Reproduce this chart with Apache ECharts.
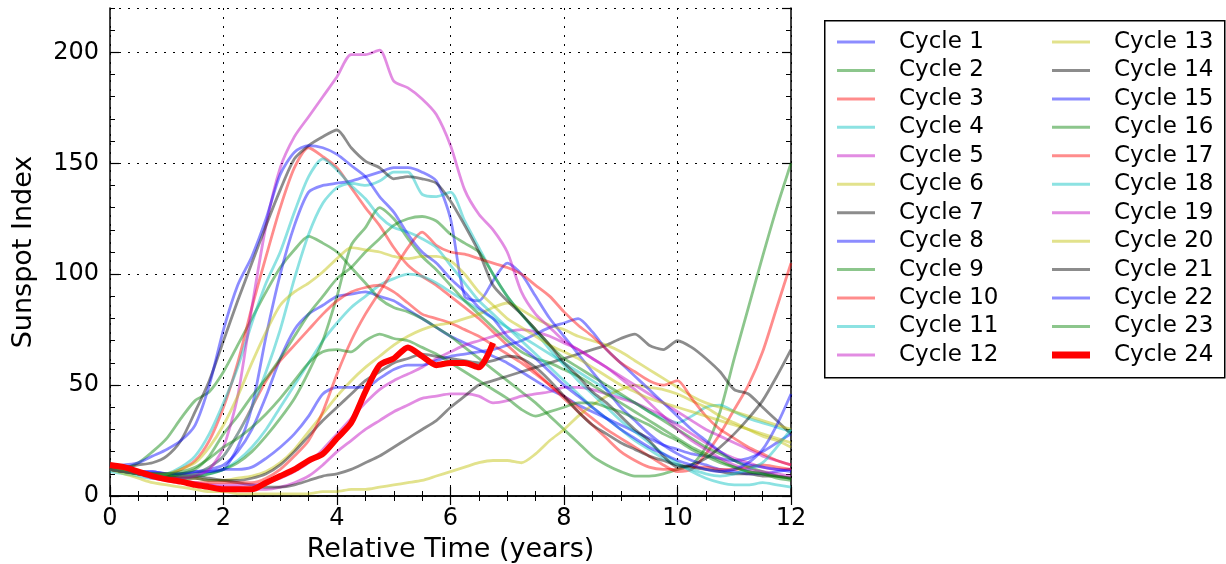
<!DOCTYPE html>
<html>
<head>
<meta charset="utf-8">
<script src="https://cdn.jsdelivr.net/npm/echarts@6/dist/echarts.min.js"></script>
<style>
  html, body { margin: 0; padding: 0; background: #fff; }
  #chart { width: 1226px; height: 564px; }
</style>
</head>
<body>
<div id="chart"></div>
<script>
// sample times (years since cycle start)
const years = [0, 0.25, 0.5, 0.75, 1, 1.25, 1.5, 1.75, 2, 2.25, 2.5, 2.75,
  3, 3.25, 3.5, 3.75, 4, 4.25, 4.5, 4.75, 5, 5.25, 5.5, 5.75,
  6, 6.25, 6.5, 6.75, 7, 7.25, 7.5, 7.75, 8, 8.25, 8.5, 8.75,
  9, 9.25, 9.5, 9.75, 10, 10.25, 10.5, 10.75, 11, 11.25, 11.5, 11.75, 12];

// sunspot index per cycle
const cycle1 = [12,12,11,11, 10,10,11,12, 14,20,30,45, 62,75,82,86, 90,91,92,90, 88,84,80,76, 72,69,66,63, 60,56,52,48, 45,41,38,35, 32,29,26,23, 21,19,18,17, 16,17,20,24, 28];
const cycle2 = [13,13,15,20, 26,35,43,47, 56,68,80,92, 103,111,117,114, 110,103,96,89, 85,83,80,76, 72,67,62,57, 52,47,42,36, 30,24,18,14, 11,9,9,10, 12,14,22,38, 62,85,108,130, 150];
const cycle3 = [13,12,11,10, 10,12,16,25, 40,60,85,108, 130,148,157,153, 148,139,130,122, 112,104,99,95, 90,85,80,74, 68,62,56,50, 45,40,35,30, 26,22,18,14, 11,12,19,28, 39,50,65,85, 105];
const cycle4 = [11,10,9,8, 8,8,9,10, 12,16,22,30, 40,50,60,70, 78,85,90,95, 98,100,99,96, 92,88,84,80, 76,72,68,64, 60,56,52,48, 45,42,38,35, 33,36,40,41, 38,35,33,31, 29];
const cycle5 = [12,11,10,9, 8,7,6,5, 4,4,3,3, 4,6,9,14, 20,25,30,34, 38,41,44,45, 46,46,45,42, 43,45,46,47, 49,49,48,46, 44,42,39,36, 32,28,24,20, 17,15,13,12, 12];
const cycle6 = [12,10,8,6, 5,4,3,2, 2,1,1,1, 1,1,1,2, 2,3,3,4, 5,6,7,9, 11,13,15,16, 16,15,19,25, 30,36,41,45, 48,50,49,48, 46,43,40,36, 33,30,27,25, 22];
const cycle7 = [12,11,11,10, 10,9,9,8, 7,6,5,4, 4,5,7,9, 10,12,15,18, 22,26,30,34, 40,45,50,52, 54,56,58,60, 62,64,66,68, 71,73,68,66, 70,67,62,56, 48,46,40,34, 28];
const cycle8 = [12,12,11,11, 10,10,10,11, 12,22,40,72, 100,122,137,140, 141,142,144,146, 148,148,146,142, 125,90,88,97, 105,100,90,80, 72,64,56,48, 40,34,28,23, 19,16,14,12, 11,10,10,11, 12];
const cycle9 = [12,12,11,10, 9,9,9,10, 12,15,20,27, 35,44,56,70, 90,113,121,130, 125,116,108,102, 95,88,82,76, 70,65,62,60, 57,54,50,46, 42,38,34,30, 26,22,19,16, 13,11,10,9, 8];
const cycle10 = [13,12,10,9, 8,9,10,13, 18,28,40,52, 61,68,75,82, 88,92,94,95, 92,87,82,80, 78,75,72,68, 64,60,55,50, 44,38,32,26, 20,16,13,12, 12,13,13,12, 12,13,14,13, 12];
const cycle11 = [12,11,10,9, 9,9,10,13, 18,28,40,56, 75,98,118,132, 139,141,140,142, 146,146,136,135, 137,124,112,100, 90,82,74,66, 59,52,46,40, 34,29,24,19, 15,11,8,6, 5,5,6,5, 4];
const cycle12 = [13,12,10,8, 7,6,6,5, 5,5,5,6, 8,11,15,21, 28,35,42,48, 52,55,58,62, 65,68,70,72, 74,75,74,72, 69,66,62,58, 54,50,46,42, 38,34,30,27, 24,21,18,16, 14];
const cycle13 = [12,11,10,9, 9,8,8,7, 7,8,9,11, 15,21,29,37, 45,52,58,63, 68,72,75,77, 78,80,82,85, 87,84,80,77, 75,72,70,68, 65,61,57,53, 49,45,42,40, 38,36,34,32, 30];
const cycle14 = [12,11,10,9, 9,8,8,7, 7,7,8,10, 14,20,27,34, 40,46,52,56, 60,62,64,63, 62,61,60,61, 63,62,58,52, 45,38,32,28, 24,21,18,16, 14,13,12,11, 10,10,9,9, 8];
const cycle15 = [12,12,11,10, 10,10,11,11, 12,12,13,17, 22,28,36,46, 49,49,49,53, 57,59,59,61, 63,64,65,66, 68,70,73,76, 78,80,74,66, 60,54,48,42, 36,30,25,20, 16,14,13,12, 11];
const cycle16 = [12,11,10,9, 9,10,12,18, 28,36,45,53, 62,72,82,90, 98,103,110,116, 122,125,126,124, 118,114,110,100, 90,82,75,68, 62,58,54,50, 46,42,38,34, 30,26,22,19, 16,13,11,9, 8];
const cycle17 = [12,11,10,9, 8,7,6,6, 6,6,6,8, 12,18,25,38, 55,70,82,92, 102,112,119,113, 110,109,107,105, 103,100,95,90, 83,77,72,66, 60,56,52,50, 52,44,36,30, 26,22,19,16, 14];
const cycle18 = [12,11,10,9, 10,13,18,28, 42,58,78,96, 110,128,144,152, 147,140,134,126, 121,119,116,112, 104,96,88,82, 76,70,64,58, 52,46,40,35, 30,25,21,17, 14,12,10,9, 10,12,15,22, 30];
const cycle19 = [12,11,10,9, 8,8,9,12, 22,45,85,122, 148,162,171,180, 189,199,199,201, 187,184,179,172, 158,138,127,120, 110,92,82,76, 70,66,62,58, 53,48,42,36, 30,25,21,17, 14,12,11,10, 9];
const cycle20 = [13,12,11,10, 10,12,15,22, 32,45,60,74, 86,92,96,101, 107,112,111,110, 108,107,108,108, 106,100,92,86, 80,76,72,68, 65,62,58,54, 50,47,44,42, 40,38,36,34, 32,30,28,26, 24];
const cycle21 = [13,13,14,15, 18,25,38,52, 70,88,105,122, 138,152,158,162, 165,157,151,148, 143,144,143,141, 133,122,110,95, 88,82,75,68, 60,54,47,42, 36,30,25,18, 13,14,17,22, 28,35,43,54, 66];
const cycle22 = [13,14,15,18, 21,25,32,50, 75,95,108,125, 145,155,158,157, 154,149,144,135, 128,118,110,105, 98,92,85,80, 72,67,62,56, 50,45,40,35, 30,26,22,19, 16,14,12,11, 12,15,21,32, 46];
const cycle23 = [12,11,10,10, 10,11,13,17, 22,26,31,37, 44,52,60,65, 66,65,70,73, 71,70,67,64, 60,56,52,48, 44,39,36,38, 40,42,42,40, 38,35,32,28, 25,21,18,15, 13,11,10,8, 7];
const cycle24 = [14,13,11,9, 7.5,6.5,5,4, 3,3,3,6, 9,12,16,19, 26,33,47,59, 62,67,63,59, 60,60,58,69];

const cycleNames = ['Cycle 1', 'Cycle 2', 'Cycle 3', 'Cycle 4', 'Cycle 5', 'Cycle 6',
  'Cycle 7', 'Cycle 8', 'Cycle 9', 'Cycle 10', 'Cycle 11', 'Cycle 12',
  'Cycle 13', 'Cycle 14', 'Cycle 15', 'Cycle 16', 'Cycle 17', 'Cycle 18',
  'Cycle 19', 'Cycle 20', 'Cycle 21', 'Cycle 22', 'Cycle 23', 'Cycle 24'];

const cycles = [cycle1, cycle2, cycle3, cycle4, cycle5, cycle6, cycle7, cycle8,
  cycle9, cycle10, cycle11, cycle12, cycle13, cycle14, cycle15, cycle16,
  cycle17, cycle18, cycle19, cycle20, cycle21, cycle22, cycle23, cycle24];

// matplotlib classic colour cycle b g r c m y k, drawn half transparent
const palette = ['rgba(0,0,255,0.45)', 'rgba(0,128,0,0.45)', 'rgba(255,0,0,0.45)',
  'rgba(0,191,191,0.45)', 'rgba(191,0,191,0.45)', 'rgba(191,191,0,0.45)', 'rgba(0,0,0,0.45)'];

const font = 'DejaVu Sans';
const thinIcon = 'path://M0,0H380V30H0Z';

function colorOf(i) {
  return i === 23 ? '#ff0000' : palette[i % 7];
}

const series = cycles.map(function (vals, i) {
  return {
    name: cycleNames[i],
    type: 'line',
    symbol: 'none',
    smooth: 0.25,
    color: colorOf(i),
    lineStyle: { color: colorOf(i), width: i === 23 ? 6 : 2.8 },
    emphasis: { disabled: true },
    data: vals.map(function (v, j) { return [years[j], v]; })
  };
});

const legendText = {
  fontSize: 23, fontFamily: font, color: '#000',
  lineHeight: 24, padding: [0, 0, 0, 19]
};

const chart = echarts.init(document.getElementById('chart'), null, { renderer: 'canvas' });

const frame = { show: true, lineStyle: { color: '#000', width: 1.5 } };
const dotted = { show: true, lineStyle: { color: '#000', width: 1, type: [2, 7] } };

const option = {
  animation: false,
  backgroundColor: '#fff',
  grid: { left: 110, right: 435, top: 8, bottom: 68, containLabel: false, outerBoundsMode: 'none' },
  xAxis: [{
    type: 'value', min: 0, max: 12, interval: 2, position: 'bottom',
    axisLine: frame,
    axisTick: { inside: true, length: 9, lineStyle: { color: '#000', width: 1.2 } },
    minorTick: { show: true, splitNumber: 4, length: 5, lineStyle: { color: '#000', width: 1 } },
    axisLabel: { color: '#000', fontSize: 24, fontFamily: font, margin: 11 },
    splitLine: dotted,
    name: 'Relative Time (years)', nameLocation: 'middle', nameGap: 40,
    nameTextStyle: { color: '#000', fontSize: 27, fontFamily: font }
  }, {
    type: 'value', min: 0, max: 12, interval: 2, position: 'top',
    axisLine: frame,
    axisTick: { inside: true, length: 9, lineStyle: { color: '#000', width: 1.2 } },
    minorTick: { show: true, splitNumber: 4, length: 5, lineStyle: { color: '#000', width: 1 } },
    axisLabel: { show: false },
    splitLine: { show: false }
  }],
  yAxis: [{
    type: 'value', min: 0, max: 220, interval: 50, position: 'left',
    axisLine: frame,
    axisTick: { inside: true, length: 9, lineStyle: { color: '#000', width: 1.2 } },
    axisLabel: { color: '#000', fontSize: 24, fontFamily: font, margin: 11, showMaxLabel: false },
    splitLine: dotted,
    name: 'Sunspot Index', nameLocation: 'middle', nameGap: 73,
    nameTextStyle: { color: '#000', fontSize: 27, fontFamily: font }
  }, {
    type: 'value', min: 0, max: 220, interval: 10, position: 'left',
    axisLine: { show: false },
    axisTick: { inside: true, length: 5, lineStyle: { color: '#000', width: 1 } },
    axisLabel: { show: false },
    splitLine: { show: false }
  }, {
    type: 'value', min: 0, max: 220, interval: 50, position: 'right',
    axisLine: frame,
    axisTick: { inside: true, length: 9, lineStyle: { color: '#000', width: 1.2 } },
    axisLabel: { show: false },
    splitLine: { show: false }
  }, {
    type: 'value', min: 0, max: 220, interval: 10, position: 'right',
    axisLine: { show: false },
    axisTick: { inside: true, length: 5, lineStyle: { color: '#000', width: 1 } },
    axisLabel: { show: false },
    splitLine: { show: false }
  }],
  legend: [{
    data: cycleNames.slice(0, 12).map(function (n) { return { name: n, icon: thinIcon }; }),
    orient: 'vertical', left: 837, top: 30, padding: 0,
    itemWidth: 38, itemHeight: 7, itemGap: 4.45,
    selectedMode: false, textStyle: legendText
  }, {
    data: cycleNames.slice(12).map(function (n, k) {
      return { name: n, icon: k === 11 ? 'rect' : thinIcon };
    }),
    orient: 'vertical', left: 1052, top: 30, padding: 0,
    itemWidth: 38, itemHeight: 7, itemGap: 4.45,
    selectedMode: false, textStyle: legendText
  }],
  graphic: [{
    type: 'rect', left: 824, top: 20, z: -1,
    shape: { width: 400, height: 357 },
    style: { fill: 'transparent', stroke: '#000', lineWidth: 1.5 }
  }],
  series: series
};

chart.setOption(option);
</script>
</body>
</html>
